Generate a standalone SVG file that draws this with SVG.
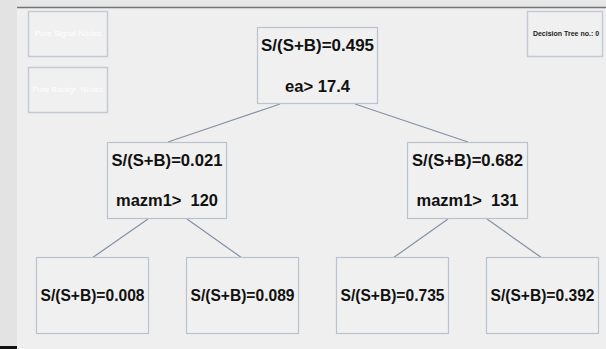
<svg xmlns="http://www.w3.org/2000/svg" width="606" height="349" viewBox="0 0 606 349">
  <style>
    .node rect { fill: #f0f0f0; stroke: #b9c2cd; stroke-width: 1.2; }
    .legend rect { fill: #f0f0f0; stroke: #c3cad3; stroke-width: 1.5; }
    .val { font-family: "Liberation Sans", Arial, sans-serif; font-weight: bold; font-size: 17px; fill: #111; text-anchor: middle; }
    .leg { font-family: "Liberation Sans", Arial, sans-serif; font-size: 8px; fill: #ffffff; text-anchor: middle; }
    .info { font-family: "Liberation Sans", Arial, sans-serif; font-weight: bold; font-size: 7px; fill: #222; text-anchor: middle; }
    .edges line { stroke: #8391a6; stroke-width: 1.2; }
  </style>

  <!-- window frame -->
  <rect x="0" y="0" width="606" height="349" fill="#efefef"/>
  <rect x="0" y="0" width="17" height="349" fill="#e3e3e4"/>
  <rect x="17" y="0" width="589" height="7" fill="#e7e7e7"/>
  <line x1="17" y1="7.5" x2="606" y2="7.5" stroke="#747474" stroke-width="1.5"/>
  <rect x="0" y="346" width="17" height="3" fill="#111"/>

  <!-- legend -->
  <g id="legend-signal" class="legend">
    <rect x="28.5" y="11.5" width="79" height="45"/>
    <text class="leg" x="68" y="36">Pure Signal Nodes</text>
  </g>
  <g id="legend-background" class="legend">
    <rect x="28.5" y="67.5" width="79" height="45"/>
    <text class="leg" x="68" y="92">Pure Backgr. Nodes</text>
  </g>
  <g id="tree-info" class="legend">
    <rect x="527.5" y="11.5" width="75" height="45"/>
    <text class="info" x="566" y="36">Decision Tree no.: 0</text>
  </g>

  <!-- connectors -->
  <g id="edges" class="edges">
    <line x1="280" y1="104" x2="168" y2="142"/>
    <line x1="355" y1="104" x2="468" y2="142"/>
    <line x1="148" y1="219" x2="92" y2="258"/>
    <line x1="187" y1="219" x2="242" y2="258"/>
    <line x1="448" y1="219" x2="393" y2="258"/>
    <line x1="487" y1="219" x2="542" y2="258"/>
  </g>

  <!-- nodes -->
  <g id="node-root" class="node">
    <rect x="257.5" y="27.5" width="120" height="76"/>
    <text class="val" x="317.5" y="51" textLength="113" lengthAdjust="spacingAndGlyphs">S/(S+B)=0.495</text>
    <text class="val" x="317.5" y="92" textLength="65" lengthAdjust="spacingAndGlyphs">ea&gt; 17.4</text>
  </g>
  <g id="node-l" class="node">
    <rect x="107.5" y="142.5" width="119" height="76"/>
    <text class="val" x="167" y="166" textLength="111" lengthAdjust="spacingAndGlyphs">S/(S+B)=0.021</text>
    <text class="val" x="167" y="206" textLength="102" lengthAdjust="spacingAndGlyphs" xml:space="preserve">mazm1&gt;  120</text>
  </g>
  <g id="node-r" class="node">
    <rect x="407.5" y="142.5" width="120" height="76"/>
    <text class="val" x="467.5" y="166" textLength="111" lengthAdjust="spacingAndGlyphs">S/(S+B)=0.682</text>
    <text class="val" x="467.5" y="206" textLength="102" lengthAdjust="spacingAndGlyphs" xml:space="preserve">mazm1&gt;  131</text>
  </g>
  <g id="node-ll" class="node">
    <rect x="36.5" y="257.5" width="112" height="76"/>
    <text class="val" x="92.5" y="301" textLength="104" lengthAdjust="spacingAndGlyphs">S/(S+B)=0.008</text>
  </g>
  <g id="node-lr" class="node">
    <rect x="186.5" y="257.5" width="112" height="76"/>
    <text class="val" x="242.5" y="301" textLength="104" lengthAdjust="spacingAndGlyphs">S/(S+B)=0.089</text>
  </g>
  <g id="node-rl" class="node">
    <rect x="336.5" y="257.5" width="112" height="76"/>
    <text class="val" x="392.5" y="301" textLength="104" lengthAdjust="spacingAndGlyphs">S/(S+B)=0.735</text>
  </g>
  <g id="node-rr" class="node">
    <rect x="486.5" y="257.5" width="112" height="76"/>
    <text class="val" x="542.5" y="301" textLength="104" lengthAdjust="spacingAndGlyphs">S/(S+B)=0.392</text>
  </g>
</svg>
